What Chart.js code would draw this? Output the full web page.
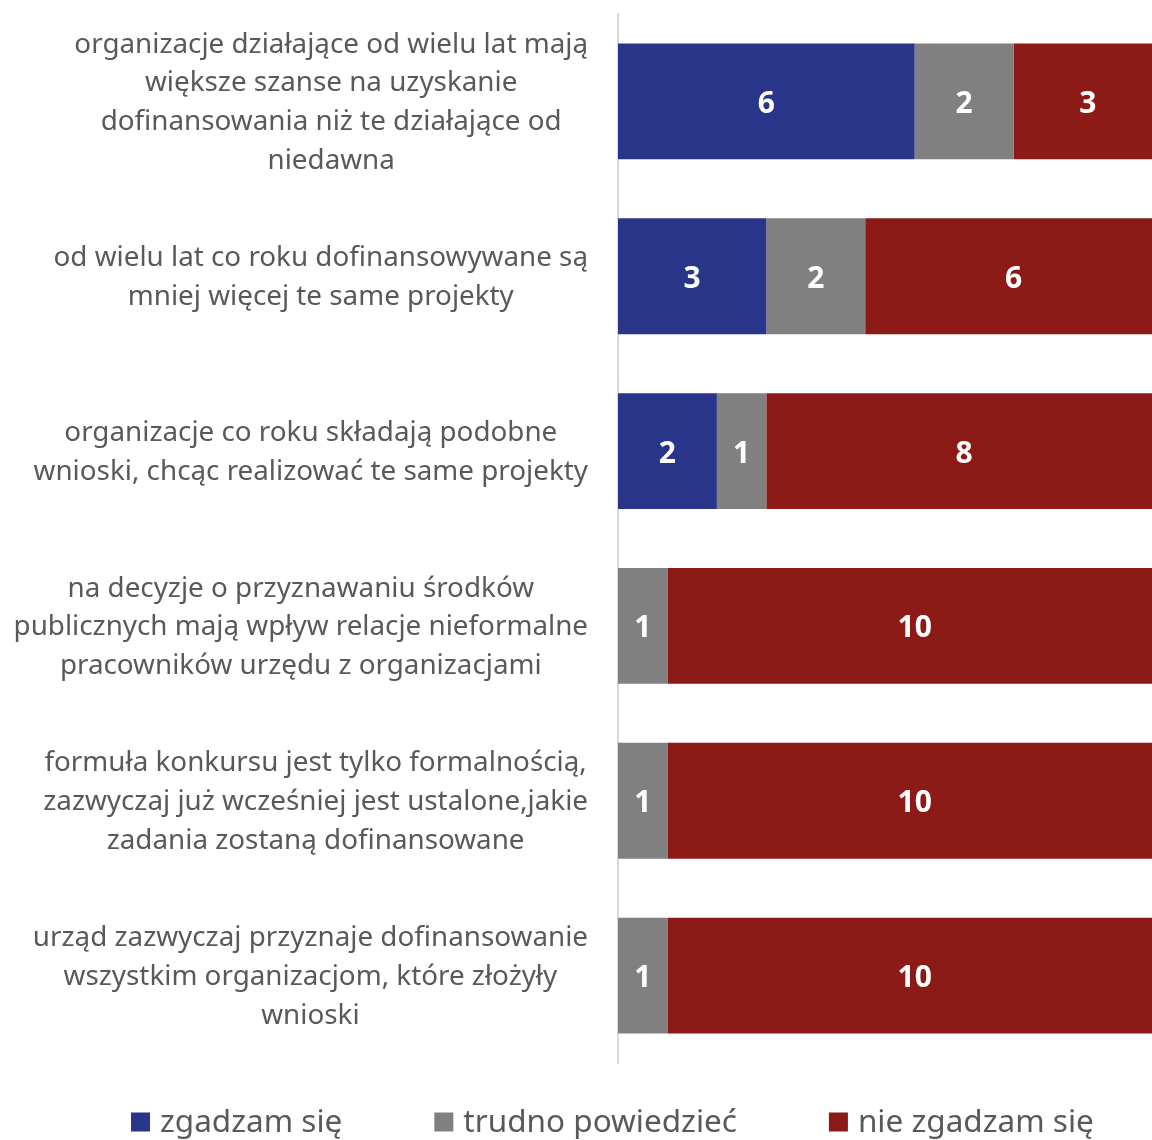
<!DOCTYPE html>
<html><head><meta charset="utf-8">
<script src="https://cdn.jsdelivr.net/npm/chart.js@4/dist/chart.umd.min.js"></script>
<style>html,body{margin:0;padding:0;background:#fff;overflow:hidden}#wrap{width:1152px;height:1140px;position:relative}</style>
</head><body><div id="wrap"><canvas id="c"></canvas></div>
<script>
const categories = [
  ["organizacje działające od wielu lat mają", "większe szanse na uzyskanie", "dofinansowania niż te działające od", "niedawna"],
  ["od wielu lat co roku dofinansowywane są", "mniej więcej te same projekty"],
  ["organizacje co roku składają podobne", "wnioski, chcąc realizować te same projekty"],
  ["na decyzje o przyznawaniu środków", "publicznych mają wpływ relacje nieformalne", "pracowników urzędu z organizacjami"],
  ["formuła konkursu jest tylko formalnością,", "zazwyczaj już wcześniej jest ustalone,jakie", "zadania zostaną dofinansowane"],
  ["urząd zazwyczaj przyznaje dofinansowanie", "wszystkim organizacjom, które złożyły", "wnioski"]
];
const seriesNames = ["zgadzam się", "trudno powiedzieć", "nie zgadzam się"];
const agree = [6, 3, 2, 0, 0, 0];
const unsure = [2, 2, 1, 1, 1, 1];
const disagree = [3, 6, 8, 10, 10, 10];
const seriesColors = ["#283588", "#808080", "#8C1A17"];

const FONT = "'Noto Sans', 'Open Sans', sans-serif";
const LABEL_SIZE = 27.8;
const LABEL_LINE = 38.7;
const LEGEND_SIZE = 31.5;

const yLabelPlugin = {
  id: 'yLabels',
  afterDraw(chart) {
    const ctx = chart.ctx;
    const ys = chart.scales.y;
    ctx.save();
    ctx.font = LABEL_SIZE + 'px ' + FONT;
    ctx.fillStyle = '#595959';
    ctx.textAlign = 'center';
    ctx.textBaseline = 'middle';
    const right = chart.chartArea.left - 30;
    categories.forEach((lines, i) => {
      const cy = ys.getPixelForValue(i) + 1.5;
      let maxW = 0;
      lines.forEach(l => { maxW = Math.max(maxW, ctx.measureText(l).width); });
      const cx = right - maxW / 2;
      const y0 = cy - (lines.length - 1) * LABEL_LINE / 2;
      lines.forEach((l, k) => ctx.fillText(l, cx, y0 + k * LABEL_LINE));
    });
    ctx.restore();
  }
};

const valueLabelPlugin = {
  id: 'valueLabels',
  afterDatasetsDraw(chart) {
    const ctx = chart.ctx;
    ctx.save();
    ctx.font = 'bold 30px ' + FONT;
    ctx.fillStyle = '#ffffff';
    ctx.textAlign = 'center';
    ctx.textBaseline = 'middle';
    chart.data.datasets.forEach((ds, di) => {
      const meta = chart.getDatasetMeta(di);
      meta.data.forEach((el, i) => {
        const v = ds.data[i];
        if (!v) return;
        ctx.fillText(String(v), (el.x + el.base) / 2, el.y + 3);
      });
    });
    ctx.restore();
  }
};

const legendPlugin = {
  id: 'customLegend',
  afterDraw(chart) {
    const ctx = chart.ctx;
    ctx.save();
    ctx.font = LEGEND_SIZE + 'px ' + FONT;
    ctx.textBaseline = 'middle';
    ctx.textAlign = 'left';
    const cy = chart.chartArea.bottom + 59;
    const box = 19, gapText = 10, gapItem = 92;
    let x = 131;
    chart.data.datasets.forEach(ds => {
      ctx.fillStyle = ds.backgroundColor;
      ctx.fillRect(x, cy - box / 2, box, box);
      ctx.fillStyle = '#595959';
      ctx.fillText(ds.label, x + box + gapText, cy + 1);
      x += box + gapText + ctx.measureText(ds.label).width + gapItem;
    });
    ctx.restore();
  }
};

const datasets = [agree, unsure, disagree].map((d, i) => ({
  label: seriesNames[i],
  data: d,
  backgroundColor: seriesColors[i],
  borderWidth: 0,
  categoryPercentage: 0.663,
  barPercentage: 1
}));

new Chart(document.getElementById('c'), {
  type: 'bar',
  data: { labels: categories.map(c => c.join(' ')), datasets },
  options: {
    indexAxis: 'y',
    responsive: true,
    maintainAspectRatio: false,
    animation: false,
    layout: { padding: { top: 14, bottom: 77, left: 0, right: 0 } },
    scales: {
      x: { stacked: true, min: 0, max: 10.8, display: false },
      y: {
        stacked: true,
        ticks: { display: false },
        grid: { display: false },
        border: { display: true, color: '#d9d9d9', width: 2 },
        afterFit(s) { s.width = 618; }
      }
    },
    plugins: { legend: { display: false }, tooltip: { enabled: false } }
  },
  plugins: [yLabelPlugin, valueLabelPlugin, legendPlugin]
});
</script>
</body></html>
